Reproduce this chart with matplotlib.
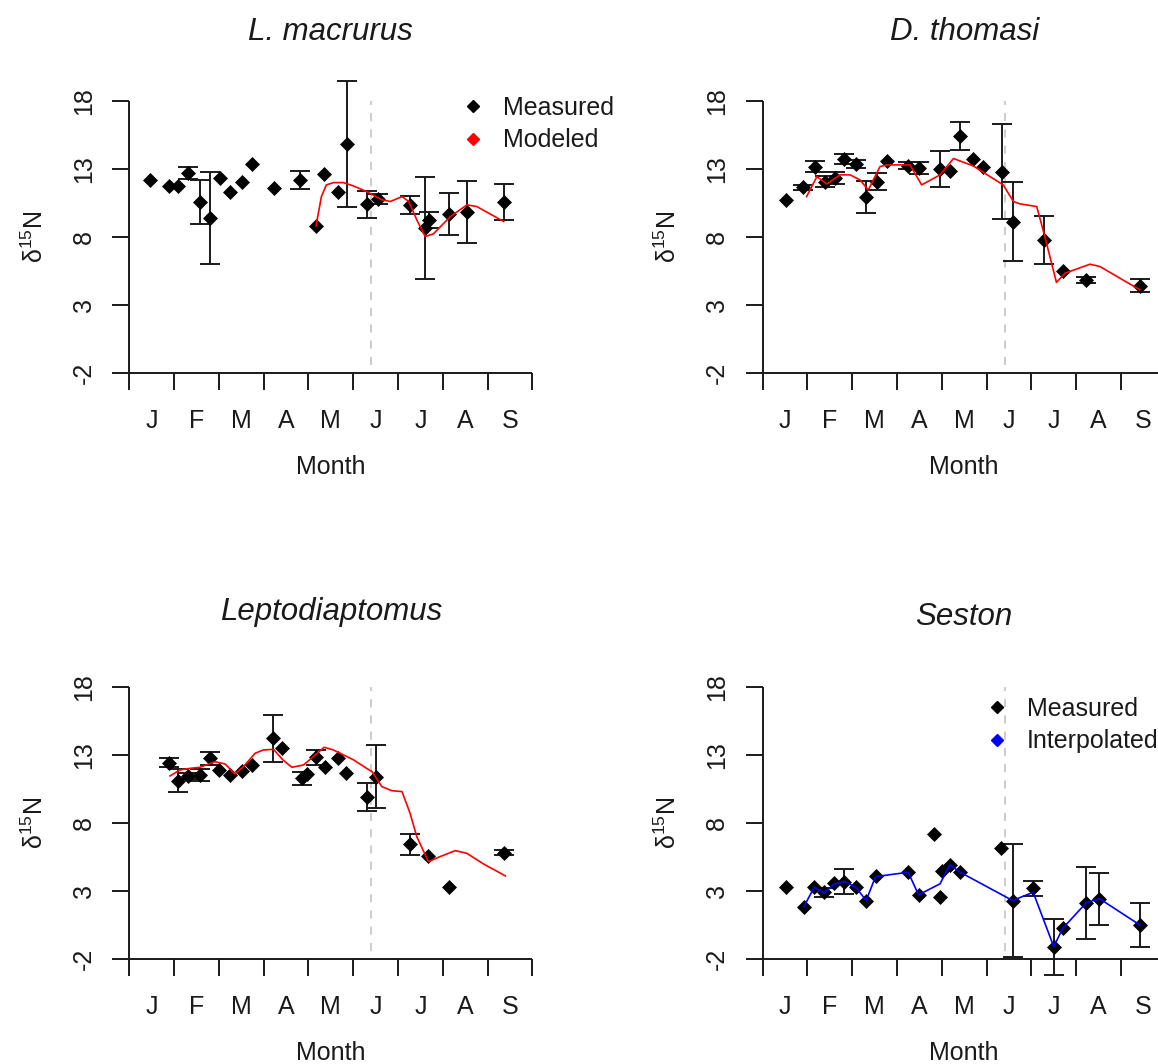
import matplotlib
matplotlib.use("Agg")
import matplotlib.pyplot as plt
from matplotlib.lines import Line2D
import numpy as np

plt.rcParams['font.family'] = ['Liberation Sans', 'DejaVu Sans']
plt.rcParams['mathtext.fontset'] = 'custom'
plt.rcParams['mathtext.rm'] = 'Liberation Sans'
plt.rcParams['mathtext.it'] = 'Liberation Sans:italic'

# ---------------- data (x in months since 1 Jan, y = d15N) ----------------
month_labels = ["J", "F", "M", "A", "M", "J", "J", "A", "S"]
y_ticks = [-2, 3, 8, 13, 18]

# L. macrurus
lm_x = [0.46, 0.89, 1.08, 1.32, 1.58, 1.80, 2.03, 2.25, 2.52, 2.74, 3.23, 3.81,
        4.17, 4.35, 4.65, 4.86, 5.30, 5.55, 6.26, 6.61, 6.70, 7.15, 7.54, 8.37]
lm_y = [12.20, 11.76, 11.76, 12.74, 10.56, 9.38, 12.32, 11.29, 12.03, 13.37, 11.61, 12.20,
        8.82, 12.64, 11.29, 14.84, 10.41, 10.78, 10.34, 8.65, 9.26, 9.70, 9.87, 10.56]
lm_err = [0, 0, 0, 0.44, 1.60, 3.37, 0, 0, 0, 0, 0, 0.67,
          0, 0, 0, 4.63, 0.98, 0.35, 0.67, 3.76, 0.60, 1.53, 2.28, 1.32]
lm_mod_x = [4.17, 4.29, 4.40, 4.56, 4.78, 5.00, 5.30, 5.64, 5.83, 6.09, 6.24, 6.42,
            6.61, 6.79, 7.17, 7.54, 7.76, 8.36]
lm_mod_y = [8.82, 10.97, 11.83, 12.00, 12.00, 11.76, 11.34, 10.73, 10.61, 10.97, 10.61, 9.26,
            8.04, 8.23, 9.50, 10.36, 10.24, 9.14]

# D. thomasi
dt_x = [0.52, 0.91, 1.17, 1.39, 1.62, 1.82, 2.08, 2.31, 2.55, 2.78, 3.24, 3.48,
        3.96, 4.18, 4.41, 4.69, 4.91, 5.34, 5.58, 6.28, 6.70, 7.23, 8.42]
dt_y = [10.73, 11.64, 13.18, 12.08, 12.32, 13.72, 13.37, 10.97, 12.08, 13.62, 13.23, 13.06,
        12.98, 12.88, 15.43, 13.72, 13.13, 12.81, 9.11, 7.79, 5.47, 4.85, 4.41]
dt_err = [0, 0.2, 0.43, 0.37, 0.43, 0.37, 0.30, 1.17, 0.60, 0, 0.25, 0.43,
          1.31, 0, 1.03, 0, 0, 3.48, 2.91, 1.78, 0, 0.2, 0.49]
dt_mod_x = [0.98, 1.21, 1.43, 1.73, 1.95, 2.17, 2.36, 2.62, 2.77, 3.29, 3.55, 3.96,
            4.26, 4.70, 5.37, 5.60, 5.74, 6.12, 6.30, 6.56, 6.75, 7.31, 7.53, 8.42]
dt_mod_y = [10.97, 12.44, 11.90, 12.57, 12.57, 12.20, 11.46, 13.18, 13.30, 13.30, 11.83, 12.57,
            13.77, 13.23, 11.83, 10.61, 10.44, 10.24, 8.04, 4.66, 5.34, 6.00, 5.83, 4.12]

# Leptodiaptomus
lp_x = [0.89, 1.08, 1.30, 1.58, 1.80, 2.01, 2.25, 2.51, 2.73, 3.22, 3.42, 3.85,
        3.96, 4.17, 4.36, 4.65, 4.84, 5.30, 5.51, 6.27, 6.68, 7.15, 8.36]
lp_y = [12.46, 11.14, 11.48, 11.55, 12.78, 11.92, 11.55, 11.87, 12.29, 14.25, 13.51, 11.31,
        11.63, 12.85, 12.17, 12.78, 11.73, 9.96, 11.43, 6.46, 5.60, 3.34, 5.84]
lp_err = [0.33, 0.86, 0.2, 0.43, 0.49, 0, 0, 0, 0, 1.72, 0, 0.49,
          0, 0.53, 0, 0, 0, 1.04, 2.34, 0.76, 0, 0, 0.2]
lp_mod_x = [0.91, 1.13, 1.36, 1.58, 1.91, 2.14, 2.36, 2.55, 2.81, 2.99, 3.22, 3.43,
            3.63, 3.89, 4.11, 4.35, 4.56, 5.01, 5.30, 5.42, 5.64, 5.86, 6.09, 6.27,
            6.42, 6.68, 6.94, 7.28, 7.54, 7.91, 8.40]
lp_mod_y = [11.48, 11.92, 12.04, 12.12, 12.53, 12.36, 11.63, 12.17, 13.15, 13.39, 13.44, 12.66,
            12.12, 12.29, 12.90, 13.59, 13.39, 12.66, 12.04, 11.80, 10.70, 10.40, 10.33, 8.74,
            7.02, 5.18, 5.55, 5.99, 5.79, 5.01, 4.13]

# Seston
se_x = [0.52, 0.92, 1.15, 1.37, 1.59, 1.82, 2.08, 2.31, 2.52, 3.25, 3.48, 3.82,
        3.96, 4.00, 4.18, 4.41, 5.32, 5.58, 6.04, 6.50, 6.70, 7.23, 7.52, 8.42]
se_y = [3.34, 1.87, 3.34, 2.93, 3.59, 3.72, 3.30, 2.32, 4.13, 4.40, 2.74, 7.19,
        2.56, 4.52, 4.94, 4.40, 6.16, 2.32, 3.22, -1.07, 0.28, 2.17, 2.46, 0.53]
se_err = [0, 0, 0, 0.33, 0, 0.94, 0, 0, 0, 0, 0, 0,
          0, 0, 0, 0, 0, 4.14, 0.57, 2.05, 0, 2.65, 1.92, 1.62]
se_int_x = [0.92, 1.15, 1.37, 1.59, 1.82, 2.08, 2.31, 2.52, 3.25, 3.48, 3.96, 4.18,
            4.41, 5.58, 6.04, 6.50, 6.70, 7.23, 7.52, 8.42]
se_int_y = [1.87, 3.30, 2.86, 3.52, 3.72, 3.30, 2.32, 4.08, 4.40, 2.74, 3.55, 4.94,
            4.40, 2.32, 2.93, -1.07, 0.28, 2.17, 2.46, 0.53]

titles = ["L. macrurus", "D. thomasi", "Leptodiaptomus", "Seston"]
vline_x = [5.39, 5.41, 5.39, 5.41]

# ---------------- layout ----------------
W, H = 1158, 1064
fig = plt.figure(figsize=(W / 100, H / 100), dpi=100)


def rect(x0, x1, ytop, ybot):
    return [x0 / W, 1 - ybot / H, (x1 - x0) / W, (ybot - ytop) / H]


rects = [rect(129.3, 532.3, 101, 373), rect(762.7, 1165.7, 101, 373),
         rect(129.3, 532.3, 687.3, 959.3), rect(762.7, 1165.7, 687.3, 959.3)]
title_pads = [44, 44, 48.5, 45]

panels = [
    (lm_x, lm_y, lm_err, lm_mod_x, lm_mod_y, 'red'),
    (dt_x, dt_y, dt_err, dt_mod_x, dt_mod_y, 'red'),
    (lp_x, lp_y, lp_err, lp_mod_x, lp_mod_y, 'red'),
    (se_x, se_y, se_err, se_int_x, se_int_y, 'blue'),
]

LW = 1.4
INK = '#1a1a1a'
for i, (px, py, pe, mx, my, lc) in enumerate(panels):
    ax = fig.add_axes(rects[i])
    ax.set_xlim(0, 9)
    ax.set_ylim(-2, 18)
    for s in ['top', 'right']:
        ax.spines[s].set_visible(False)
    for s in ['left', 'bottom']:
        ax.spines[s].set_linewidth(LW)
        ax.spines[s].set_color(INK)
        ax.spines[s].set_capstyle('butt')

    # ticks
    ax.set_xticks(np.arange(0, 10))
    ax.set_xticklabels([])
    ax.set_xticks(np.arange(0.5, 9, 1.0), minor=True)
    ax.set_xticklabels(month_labels, minor=True)
    ax.tick_params(axis='x', which='major', length=12, width=LW, color=INK)
    ax.tick_params(axis='x', which='minor', length=0, pad=26, labelsize=18, labelcolor=INK)
    ax.set_yticks(y_ticks)
    ax.set_yticklabels([str(v) for v in y_ticks], rotation=90, va='center')
    ax.tick_params(axis='y', length=12, width=LW, color=INK, pad=12, labelsize=18,
                   labelcolor=INK)

    ax.set_xlabel("Month", fontsize=18, color=INK)
    ax.xaxis.set_label_coords(0.5, -0.30)
    ax.set_ylabel("δ$^{15}$N", fontsize=18, color=INK)
    ax.yaxis.set_label_coords(-0.2017, 0.5)
    ax.set_title(titles[i], fontsize=22.5, style='italic', pad=title_pads[i], color=INK)

    # dashed vertical line
    ax.plot([vline_x[i], vline_x[i]], [-1.4, 18], color='#c8c8c8', lw=1.3,
            linestyle=(0, (4.5, 4.5)), zorder=1)

    # error bars
    px_a, py_a, pe_a = np.array(px), np.array(py), np.array(pe)
    m = pe_a > 0
    ax.errorbar(px_a[m], py_a[m], yerr=pe_a[m], fmt='none', ecolor=INK,
                elinewidth=LW, capsize=7, capthick=LW, zorder=2, clip_on=False)
    # points
    ax.plot(px_a, py_a, ls='none', marker='D', ms=7.3, color='black', mew=0.5,
            zorder=3, clip_on=False)
    # model / interpolation line
    ax.plot(mx, my, color=lc, lw=1.2, zorder=4, clip_on=False)

    if i == 0 or i == 3:
        second = 'Modeled' if i == 0 else 'Interpolated'
        handles = [Line2D([], [], ls='none', marker='D', ms=6.5, color='black'),
                   Line2D([], [], ls='none', marker='D', ms=6.5, color=lc)]
        anchor = (460.5, 96) if i == 0 else (984.5, 697)
        ax.legend(handles, ['Measured', second], loc='upper left',
                  bbox_to_anchor=(anchor[0] / W, 1 - anchor[1] / H),
                  bbox_transform=fig.transFigure, frameon=False, fontsize=18,
                  handlelength=1.0, handletextpad=0.7, labelspacing=0.33,
                  borderpad=0, borderaxespad=0, labelcolor=INK)

fig.savefig("out.png", dpi=100)
